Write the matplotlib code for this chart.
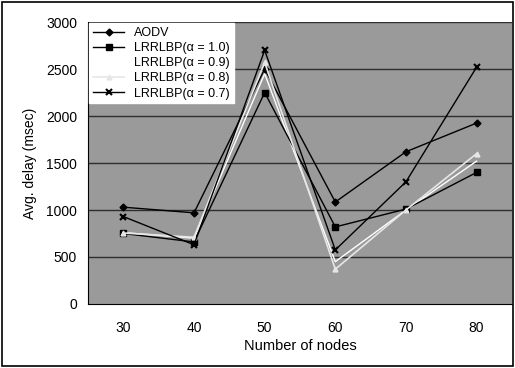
import matplotlib
matplotlib.use('Agg')
import matplotlib.pyplot as plt

plt.rcParams['font.family'] = ['Liberation Sans', 'DejaVu Sans']

nodes = [30, 40, 50, 60, 70, 80]
aodv = [1030, 970, 2500, 1085, 1620, 1925]
a10 = [750, 660, 2250, 820, 1010, 1400]
a09 = [760, 700, 2450, 450, 1000, 1520]
a08 = [755, 710, 2570, 370, 1000, 1600]
a07 = [930, 630, 2700, 575, 1300, 2520]
yticks = [0, 500, 1000, 1500, 2000, 2500, 3000]

fig = plt.figure(figsize=(5.15, 3.68), dpi=100)
ax = fig.add_axes([0.171, 0.174, 0.823, 0.766])
ax.set_facecolor('#9a9a9a')

# dark horizontal grid lines
for y in yticks[1:]:
    ax.axhline(y, color='#2e2e2e', lw=1.0, zorder=1)

ax.plot(nodes, aodv, color='black', lw=1.0, marker='D', ms=3.5, label='AODV', zorder=3)
ax.plot(nodes, a10, color='black', lw=1.0, marker='s', ms=4.5, label='LRRLBP(\u03b1 = 1.0)', zorder=3)
ax.plot(nodes, a09, color='white', lw=1.0, label='LRRLBP(\u03b1 = 0.9)', zorder=2)
ax.plot(nodes, a08, color='#e6e6e6', lw=1.2, marker='^', ms=3.5, label='LRRLBP(\u03b1 = 0.8)', zorder=3)
ax.plot(nodes, a07, color='black', lw=1.0, marker='x', ms=4.5, mew=1.5, label='LRRLBP(\u03b1 = 0.7)', zorder=3)

ax.set_xlim(25, 85)
ax.set_ylim(0, 3000)
ax.set_xticks(nodes)
ax.set_yticks(yticks)
ax.tick_params(length=0, labelsize=10, pad=8)
ax.tick_params(axis='x', pad=12)
for s in ['top', 'right']:
    ax.spines[s].set_visible(False)
ax.set_xlabel('Number of nodes', fontsize=10.5, labelpad=3)
ax.set_ylabel('Avg. delay (msec)', fontsize=10, labelpad=6)

leg = ax.legend(loc='upper left', fontsize=9, frameon=True, fancybox=False,
                borderpad=0.3, labelspacing=0.25, handlelength=2.5, borderaxespad=0.1)
leg.get_frame().set_edgecolor('white')
leg.get_frame().set_alpha(1)

fig.patches.append(plt.Rectangle((0.003, 0.005), 0.994, 0.99, transform=fig.transFigure,
                                 fill=False, edgecolor='black', lw=1.2))
fig.savefig('out.png', dpi=100)
